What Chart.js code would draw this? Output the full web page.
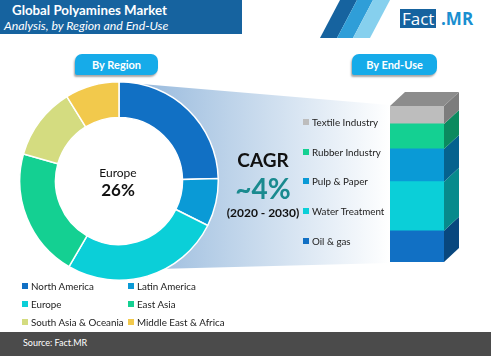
<!DOCTYPE html>
<html><head><meta charset="utf-8">
<script src="https://cdn.jsdelivr.net/npm/chart.js@4"></script>
<style>
body{margin:0;width:491px;height:356px;position:relative;background:#fff;overflow:hidden;font-family:Lato,"Open Sans",sans-serif}
.abs{position:absolute}
#title{left:0;top:0;width:242px;height:34px;background:#16639f;color:#fff}
#t1{left:12px;top:2px;font-weight:bold;font-size:13.3px;white-space:nowrap}
#t2{left:4px;top:18px;font-style:italic;font-size:12.3px;white-space:nowrap}
.pill{height:21px;background:#16abe9;color:#fff;font-weight:bold;font-size:11px;text-align:center;line-height:21px;border-radius:7px 7px 7px 2px;box-shadow:-1px 2px 2px rgba(0,0,0,0.35)}
.lg{font-size:9.8px;color:#222;white-space:nowrap;font-family:Lato,sans-serif}
.sq{display:inline-block;width:6px;height:6px;margin-right:3px;vertical-align:1px}
#footer{left:0;top:332px;width:491px;height:24px;background:#4b4b4b;color:#fff;font-size:9px;line-height:22px}
</style></head><body>
<svg class="abs" style="left:0;top:0" width="491" height="356">
<defs><linearGradient id="g" x1="0" x2="1" y1="0" y2="0"><stop offset="0" stop-color="#8fb4da"/><stop offset="1" stop-color="#ffffff"/></linearGradient></defs>
<polygon points="118,82 390,105 390,263 118,270" fill="url(#g)"/>
<polygon points="340,0 357,0 337,38 320,38" fill="#16639f"/>
<polygon points="357,0 373,0 353,38 337,38" fill="#2f9ed8"/>
<polygon points="373,0 390,0 370,38 353,38" fill="#86d0ee"/>
</svg>
<div id="title" class="abs"><div id="t1" class="abs">Global Polyamines Market</div><div id="t2" class="abs">Analysis, by Region and End-Use</div></div>
<div class="abs" style="left:400px;top:9px;height:19px;background:#16639f;color:#fff;font-size:17px;line-height:19px;padding:0 2px;font-family:'Open Sans',sans-serif">Fact</div>
<div class="abs" style="left:441px;top:9px;height:19px;color:#1a8fd0;font-size:17px;font-weight:bold;line-height:19px;font-family:'Open Sans',sans-serif">.MR</div>
<div class="abs pill" style="left:75px;top:54px;width:83px">By Region</div>
<div class="abs pill" style="left:352px;top:54px;width:85px">By End-Use</div>
<canvas id="donut" class="abs" style="left:19px;top:81px" width="200" height="200"></canvas>
<canvas id="bar" class="abs" style="left:370px;top:80px" width="110" height="200"></canvas>
<div class="abs" style="left:58px;top:165px;width:120px;text-align:center;font-size:12px;color:#111">Europe</div>
<div class="abs" style="left:58px;top:179px;width:120px;text-align:center;font-size:17px;font-weight:bold;color:#111">26%</div>
<div class="abs" style="left:213px;top:148px;width:100px;text-align:center;font-size:19px;font-weight:bold;color:#111">CAGR</div>
<div class="abs" style="left:213px;top:171px;width:100px;text-align:center;font-size:28px;font-weight:bold;color:#1a8a8f">~4%</div>
<div class="abs" style="left:213px;top:205px;width:100px;text-align:center;font-size:12px;font-weight:bold;color:#111">(2020 - 2030)</div>
<div id="euLegend"></div>
<div id="regLegend"></div>
<div id="footer" class="abs"><span style="margin-left:23px">Source: Fact.MR</span></div>
<script>
const regions = ["North America","Latin America","Europe","East Asia","South Asia & Oceania","Middle East & Africa"];
const regionShares = [24.6, 7.8, 26, 21, 11.8, 8.8];
const regionColors = ["#1170c4","#0a9ad6","#0bcfd8","#14d092","#d4dc80","#f2c94c"];

const endUses = ["Textile Industry","Rubber Industry","Pulp & Paper","Water Treatment","Oil & gas"];
const endUseShares = [11.5, 16, 21, 31.5, 20];
const endUseColors = ["#bdbdbd","#14d092","#0a9ad6","#0bcfd8","#1170c4"];
const endUseSideColors = ["#7d7d7d","#0b8a5f","#05628e","#078a8c","#08477e"];

// legends
const eu = document.getElementById('euLegend');
const euY = [123,153,182,212,242];
endUses.forEach((n,i)=>{
  const d=document.createElement('div');d.className='abs lg';
  d.style.left='303px';d.style.top=(euY[i]-7)+'px';
  d.innerHTML='<span class="sq" style="background:'+endUseColors[i]+'"></span>'+n;
  eu.appendChild(d);
});
const rg = document.getElementById('regLegend');
regions.forEach((n,i)=>{
  const d=document.createElement('div');d.className='abs lg';
  d.style.left=(i%2?128:22)+'px';d.style.top=(287+Math.floor(i/2)*18-7)+'px';
  d.innerHTML='<span class="sq" style="background:'+regionColors[i]+'"></span>'+n;
  rg.appendChild(d);
});

const holePlugin={id:'hole',beforeDatasetsDraw(c){
  const a=c.getDatasetMeta(0).data[0];const ctx=c.ctx;
  ctx.save();ctx.fillStyle='#fff';ctx.beginPath();ctx.arc(a.x,a.y,a.innerRadius,0,Math.PI*2);ctx.fill();ctx.restore();
}};
new Chart(document.getElementById('donut'),{
  type:'doughnut',
  data:{labels:regions,datasets:[{data:regionShares,backgroundColor:regionColors,borderColor:'#fff',borderWidth:1.5}]},
  options:{responsive:false,animation:false,cutout:'64%',plugins:{legend:{display:false},tooltip:{enabled:false}}},
  plugins:[holePlugin]
});

const DX=15, DY=-14;
const cubePlugin={id:'cube',afterDatasetsDraw(c){
  const ctx=c.ctx;ctx.save();
  const n=c.data.datasets.length;
  for(let i=0;i<n;i++){
    const el=c.getDatasetMeta(i).data[0];
    const r=el.x+el.width/2, l=el.x-el.width/2;
    const top=Math.min(el.y,el.base), bot=Math.max(el.y,el.base);
    ctx.fillStyle=c.data.datasets[i].sideColor;
    ctx.beginPath();ctx.moveTo(r,top);ctx.lineTo(r+DX,top+DY);ctx.lineTo(r+DX,bot+DY);ctx.lineTo(r,bot);ctx.closePath();ctx.fill();
    if(i===n-1){
      ctx.fillStyle='#8c8c8c';
      ctx.beginPath();ctx.moveTo(l,top);ctx.lineTo(l+DX,top+DY);ctx.lineTo(r+DX,top+DY);ctx.lineTo(r,top);ctx.closePath();ctx.fill();
    }
  }
  ctx.restore();
}};
const order=[4,3,2,1,0];
new Chart(document.getElementById('bar'),{
  type:'bar',
  data:{labels:['End-Use'],datasets:order.map(i=>({label:endUses[i],data:[endUseShares[i]],backgroundColor:endUseColors[i],sideColor:endUseSideColors[i],barPercentage:1,categoryPercentage:1,borderWidth:0}))},
  options:{responsive:false,animation:false,layout:{padding:{left:20,right:36,top:26,bottom:18}},
    scales:{x:{stacked:true,display:false},y:{stacked:true,display:false,min:0,max:100}},
    plugins:{legend:{display:false},tooltip:{enabled:false}}},
  plugins:[cubePlugin]
});
</script>
</body></html>
